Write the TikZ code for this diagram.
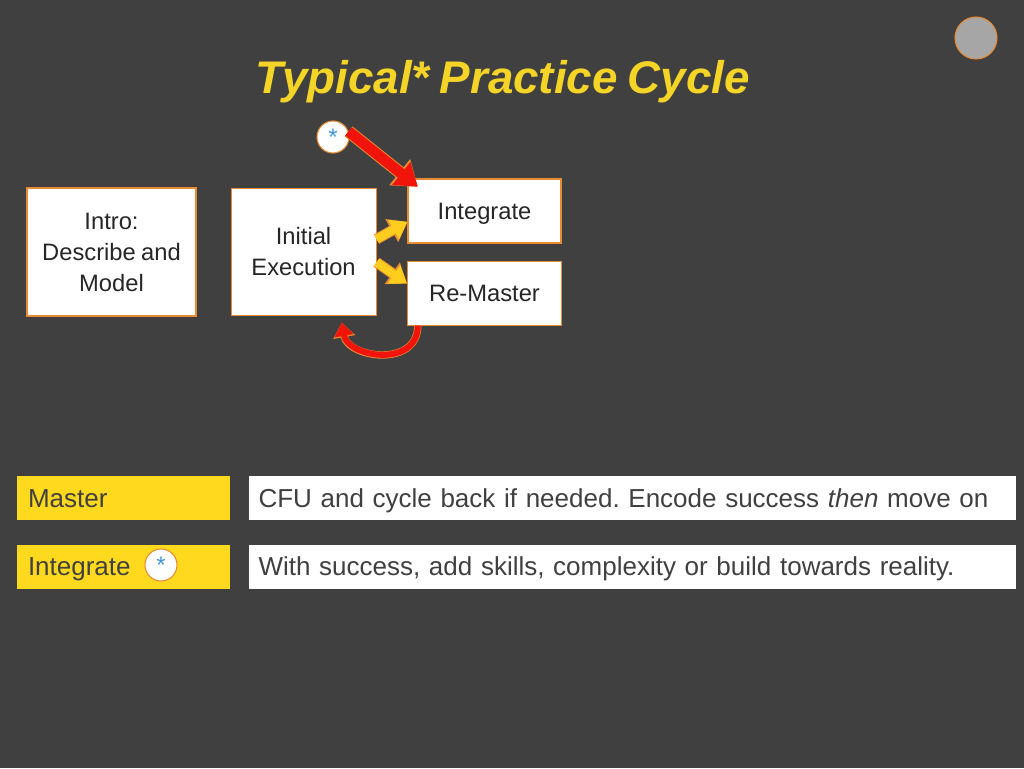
\documentclass[tikz,border=0pt]{standalone}
\usepackage{fontspec}
\setmainfont{Liberation Sans}[WordSpace=0.8]
\usetikzlibrary{arrows.meta, positioning}
\frenchspacing

\definecolor{slidebg}{RGB}{64,64,64}
\definecolor{titlegold}{RGB}{245,212,40}
\definecolor{tagyellow}{RGB}{255,217,30}
\definecolor{edge}{RGB}{230,140,50}
\definecolor{arrowred}{RGB}{240,20,10}
\definecolor{arrowyellow}{RGB}{255,205,30}
\definecolor{knobgray}{RGB}{166,166,166}
\definecolor{starblue}{RGB}{70,150,215}
\definecolor{ink}{RGB}{38,38,38}
\definecolor{notegray}{RGB}{64,64,64}

\begin{document}
\begin{tikzpicture}[x=0.75pt, y=0.75pt]
\tikzstyle{stage} = [rectangle, draw=edge, fill=white, line width=0.8pt, text=ink, align=center, inner sep=0pt, font=\fontsize{17.8}{23.25}\selectfont]
\tikzstyle{tag} = [rectangle, fill=tagyellow, text=notegray, text width=143.25pt, inner xsep=8.25pt, inner ysep=0pt, text height=17pt, text depth=3pt, minimum height=33pt, align=left, font=\fontsize{19.5}{20}\selectfont]
\tikzstyle{note} = [rectangle, fill=white, text=notegray, text width=560.25pt, inner xsep=7.5pt, inner ysep=0pt, text height=17pt, text depth=3pt, minimum height=33pt, align=left, font=\fontsize{19.5}{20}\selectfont]
\tikzstyle{asterisk} = [circle, draw=edge, fill=white, line width=0.8pt, text=starblue, minimum size=24pt, inner sep=0pt, font=\fontsize{18}{18}\selectfont]
\tikzstyle{redarrow} = [draw=arrowred, line width=8pt, shorten >=-10pt, -{Triangle[length=16pt, width=21pt]}, preaction={draw=edge, line width=9.5pt, shorten >=-10pt, -{Triangle[length=17.5pt, width=24pt]}}]
\tikzstyle{yellowarrow} = [draw=arrowyellow, line width=6.5pt, -{Triangle[length=12pt, width=16pt]}, preaction={draw=edge, line width=8pt, -{Triangle[length=13.5pt, width=19pt]}}]
\tikzstyle{looparrow} = [draw=arrowred, line width=4.5pt, shorten >=5pt, -{Triangle[length=10pt, width=14pt]}, preaction={draw=edge, line width=5.5pt, shorten >=5pt, -{Triangle[length=11pt, width=16pt]}}]

\fill [slidebg] (0,0) rectangle (1024,-768);

\node (title) at (503,-82) [text=titlegold, font=\fontsize{34.3}{40}\selectfont\bfseries\itshape] {Typical* Practice Cycle};
\node (knob) at (976,-38) [circle, fill=knobgray, draw=edge, line width=0.8pt, minimum size=31.5pt, inner sep=0pt] {};

\node (intro) at (111.5,-252) [stage, minimum width=126.75pt, minimum height=96pt] {Intro:\\Describe and\\Model};
\node (exec) [stage, right=25.5pt of intro, minimum width=108.75pt, minimum height=95.25pt] {Initial\\Execution};
\node (integ) at (484.5,-211) [stage, minimum width=114.75pt, minimum height=48pt, text height=13pt, text depth=0.2pt] {Integrate};
\node (remaster) [stage, below=12.75pt of integ, minimum width=115.5pt, minimum height=48pt, text height=13pt, text depth=0.2pt] {Re-Master};
\node (star) at (333,-137) [asterisk] {*};

\draw [redarrow] (star.20) -- (integ.north west);
\draw [yellowarrow] (exec.10) -- (integ.188);
\draw [yellowarrow] (exec.-8) -- (remaster.173);
\draw [looparrow] (remaster.206) to[out=-90, in=-80, looseness=1.4] (exec.-60);

\node (master) at (123.5,-498) [tag] {Master};
\node (mnote) [note, right=13.5pt of master] {CFU and cycle back if needed. Encode success \textit{then} move on};
\node (integtag) [tag, below=18pt of master] {Integrate};
\node (inote) [note, right=13.5pt of integtag] {With success, add skills, complexity or build towards reality.};
\node (star2) at (161,-565) [asterisk] {*};

\end{tikzpicture}
\end{document}
